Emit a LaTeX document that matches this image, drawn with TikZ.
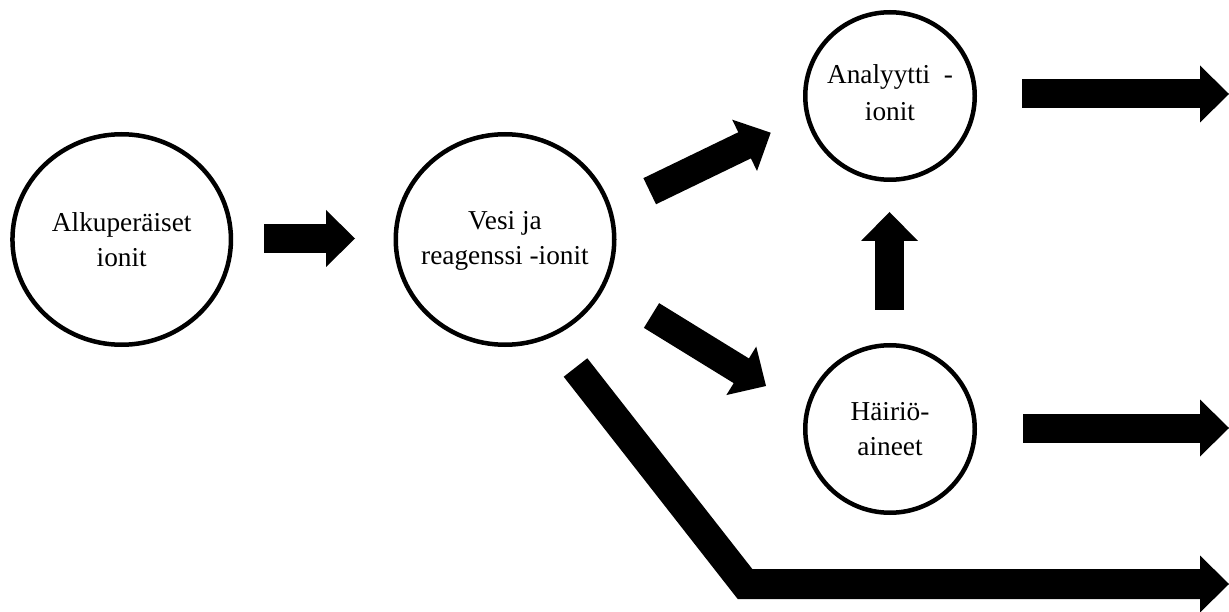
\documentclass[tikz,border=0pt]{standalone}
\usepackage{fontspec}
\setmainfont{Liberation Serif}
\usetikzlibrary{calc,shapes.geometric}

% filled triangular head: #1 = a point on the arrow's line, #2 = tip
\newcommand\blockhead[2]{%
  \coordinate (hb) at ($(#2)!29pt!(#1)$);
  \fill[black] ($(hb)!28.5pt!90:(#2)$) -- (#2) -- ($(hb)!28.5pt!-90:(#2)$) -- cycle;
}
% straight block arrow from tail #1 to tip #2
\newcommand\blockarrow[2]{%
  \draw[shaft] (#1) -- ($(#2)!28pt!(#1)$);
  \blockhead{#1}{#2}
}

\begin{document}
\begin{tikzpicture}[x=1pt,y=-1pt,
  ion/.style={draw=black, line width=4.5pt, ellipse, inner sep=0pt, fill=white},
  big/.style={ion, minimum width=218.5pt, minimum height=210.5pt},
  small/.style={ion, minimum width=169.5pt, minimum height=167.5pt},
  txt/.style={align=center, inner sep=0pt, text=black,
    font=\fontsize{27.3}{35}\selectfont},
  shaft/.style={line width=29pt, draw=black},
]
\useasboundingbox[fill=white] (0,0) rectangle (1229,612);

% ion groups
\node[big] (alku) at (121.7,239.5) {};
\node[txt] (alkut) at (alku) {Alkuperäiset\\ionit};

\node[big] (vesi) at (505,239.5) {};
\node[txt, yshift=-1.5pt] (vesit) at (vesi) {Vesi ja\\reagenssi -ionit};

\node[small] (anal) at (890,96) {};
\node[txt, yshift=3.5pt, font=\fontsize{27.3}{36.5}\selectfont] (analt) at (anal) {Analyytti\ \ -\\ionit};

\node[small] (hair) at (890,429) {};
\node[txt] (hairt) at (hair) {Häiriö-\\aineet};

% arrow end points
\coordinate (a1t) at (264,238.5);   \coordinate (a1p) at (355,238.5);
\coordinate (a2t) at (649.7,191.2); \coordinate (a2p) at (770.7,132.7);
\coordinate (a3t) at (651.5,315.5); \coordinate (a3p) at (766,386);
\coordinate (a4t) at (889.5,310);   \coordinate (a4p) at (889.5,212);
\coordinate (a5t) at (1022,94);     \coordinate (a5p) at (1229,94);
\coordinate (a6t) at (1023,428);    \coordinate (a6p) at (1229,428);
\coordinate (a7t) at (575.5,367.5); \coordinate (a7e) at (745,584);
\coordinate (a7p) at (1229,584);

\blockarrow{a1t}{a1p}
\blockarrow{a2t}{a2p}
\blockarrow{a3t}{a3p}
\blockarrow{a4t}{a4p}
\blockarrow{a5t}{a5p}
\blockarrow{a6t}{a6p}

% bent arrow running under the interferents
\draw[shaft, line width=30pt, line join=miter] (a7t) -- (a7e) -- ($(a7p)!28pt!(a7e)$);
\blockhead{a7e}{a7p}
\end{tikzpicture}
\end{document}
